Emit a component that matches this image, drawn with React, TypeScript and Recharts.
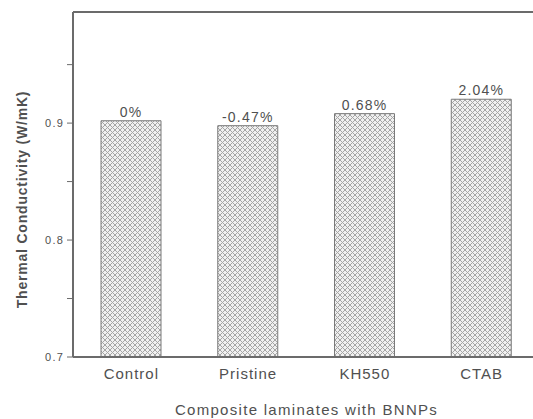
import { BarChart, Bar, XAxis, YAxis, LabelList, Label, ReferenceLine } from 'recharts'

const CATEGORIES = ['Control', 'Pristine', 'KH550', 'CTAB']
const CONDUCTIVITY = [0.902, 0.8978, 0.9081, 0.9204]
const CHANGE_LABELS = ['0%', '-0.47%', '0.68%', '2.04%']
const Y_TICKS = [0.7, 0.75, 0.8, 0.85, 0.9, 0.95]
const Y_MAX = 0.995

const data = CATEGORIES.map((name, i) => ({
    name,
    value: CONDUCTIVITY[i],
    change: CHANGE_LABELS[i]
}))

const AXIS = '#6b6b6b'
const TEXT = '#505050'
const FONT = '"Liberation Sans", Arial, sans-serif'

const YTitle = ({ viewBox }: any) => {
    const x = viewBox.x + 22
    const y = viewBox.y + viewBox.height / 2 + 15
    return (
        <text
            x={x}
            y={y}
            transform={`rotate(-90, ${x}, ${y})`}
            textAnchor="middle"
            dominantBaseline="central"
            fill={TEXT}
            fontSize={14}
            fontWeight="bold"
            letterSpacing={0.8}
        >
            Thermal Conductivity (W/mK)
        </text>
    )
}

export default function App() {
    return (
        <div style={{ position: 'absolute', left: 0, top: 0, width: 533, height: 419, overflow: 'hidden', background: '#fff' }}>
            <BarChart
                width={540}
                height={419}
                data={data}
                margin={{ top: 12, right: 0, bottom: 0, left: 0 }}
                style={{ fontFamily: FONT }}
            >
                <defs>
                    {/* fine grey crosshatch like the original print */}
                    <pattern id="hatch" width="5" height="5" patternUnits="userSpaceOnUse">
                        <rect width="5" height="5" fill="#f0f0f0" />
                        <path d="M0,0 L5,5 M-1,4 L1,6 M4,-1 L6,1" stroke="#a5a5a5" strokeWidth="1" />
                        <path d="M5,0 L0,5 M-1,1 L1,-1 M4,6 L6,4" stroke="#a5a5a5" strokeWidth="1" />
                    </pattern>
                </defs>
                <XAxis
                    dataKey="name"
                    height={62}
                    axisLine={{ stroke: AXIS, strokeWidth: 2 }}
                    tickLine={false}
                    tickMargin={5}
                    tick={{ fill: TEXT, fontSize: 15, letterSpacing: 1 }}
                >
                    <Label value="Composite laminates with BNNPs" position="insideBottom" offset={4} fill={TEXT} fontSize={15} letterSpacing={1.3} />
                </XAxis>
                <YAxis
                    domain={[0.7, Y_MAX]}
                    ticks={Y_TICKS}
                    interval={0}
                    width={73}
                    axisLine={{ stroke: AXIS, strokeWidth: 2 }}
                    tickLine={{ stroke: AXIS }}
                    tickSize={6}
                    tickMargin={3}
                    tick={{ fill: TEXT, fontSize: 11, letterSpacing: 1.2 }}
                    tickFormatter={(v: number) => (Math.round(v * 100) % 10 === 0 ? v.toFixed(1) : '')}
                >
                    <Label content={YTitle} position="insideLeft" />
                </YAxis>
                <ReferenceLine y={Y_MAX} stroke={AXIS} strokeWidth={2} ifOverflow="visible" />
                <Bar dataKey="value" barSize={60} fill="url(#hatch)" stroke="#7a7a7a" strokeWidth={1} isAnimationActive={false}>
                    <LabelList dataKey="change" position="top" offset={4} fill={TEXT} fontSize={14} letterSpacing={1.2} />
                </Bar>
            </BarChart>
        </div>
    )
}
